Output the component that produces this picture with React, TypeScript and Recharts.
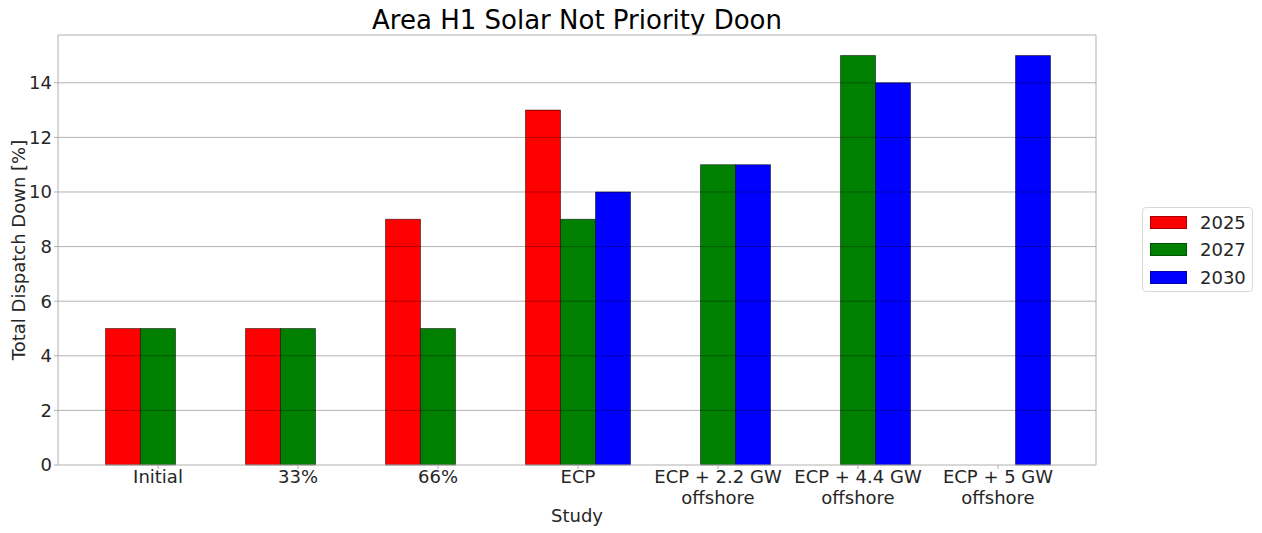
import React from "react";
import {
  Bar,
  BarChart,
  ReferenceLine,
  XAxis,
  YAxis
} from "recharts";

const categories = [
  "Initial",
  "33%",
  "66%",
  "ECP",
  "ECP + 2.2 GW\noffshore",
  "ECP + 4.4 GW\noffshore",
  "ECP + 5 GW\noffshore"
];
const values2025 = [5, 5, 9, 13, null, null, null];
const values2027 = [5, 5, 5, 9, 11, 15, null];
const values2030 = [null, null, null, 10, 11, 14, 15];
const yTicks = [0, 2, 4, 6, 8, 10, 12, 14];

const series = [
  { key: "y2025", name: "2025", color: "#ff0000" },
  { key: "y2027", name: "2027", color: "#008000" },
  { key: "y2030", name: "2030", color: "#0000ff" }
];

const data = categories.map((study, i) => ({
  study,
  y2025: values2025[i],
  y2027: values2027[i],
  y2030: values2030[i]
}));

const FONT = "'DejaVu Sans', sans-serif";
const TEXT = "#262626";
const SPINE = "#b0b0b0";

function StudyTick({ x, y, payload }: any) {
  const lines = String(payload.value).split("\n");
  return (
    <text x={x} y={y + 12} textAnchor="middle" fontFamily={FONT} fontSize={18} fill={TEXT}>
      {lines.map((line, i) => (
        <tspan key={i} x={x} dy={i === 0 ? 0 : 20.5}>
          {line}
        </tspan>
      ))}
    </text>
  );
}

function LegendBox() {
  return (
    <div
      style={{
        position: "absolute",
        left: 1142,
        top: 207,
        width: 109,
        height: 83,
        border: "1px solid #d9d9d9",
        borderRadius: 4,
        background: "#fff",
        fontFamily: FONT,
        fontSize: 18,
        color: TEXT
      }}
    >
      {series.map((s, i) => (
        <div
          key={s.key}
          style={{ position: "absolute", left: 7, top: 4 + i * 27.5, display: "flex", alignItems: "center", height: 20 }}
        >
          <span
            style={{
              display: "inline-block",
              width: 37,
              height: 13,
              background: s.color,
              border: "1px solid rgba(0,0,0,0.35)",
              boxSizing: "border-box"
            }}
          />
          <span style={{ marginLeft: 13 }}>{s.name}</span>
        </div>
      ))}
    </div>
  );
}

export default function App() {
  return (
    <div style={{ position: "absolute", left: 0, top: 0, width: 1262, height: 533, background: "#fff" }}>
      <div
        style={{
          position: "absolute",
          left: 58,
          width: 1038,
          top: 5,
          textAlign: "center",
          fontFamily: FONT,
          fontSize: 26,
          color: "#000"
        }}
      >
        Area H1 Solar Not Priority Doon
      </div>
      <BarChart
        width={1262}
        height={533}
        data={data}
        margin={{ top: 34, right: 165, bottom: 0, left: 0 }}
        barCategoryGap="12.5%"
        barGap={0}
      >
        <XAxis
          dataKey="study"
          height={68}
          padding={{ left: 30, right: 28 }}
          interval={0}
          tick={<StudyTick />}
          tickLine={{ stroke: SPINE }}
          tickSize={4}
          axisLine={{ stroke: SPINE }}
          label={{ value: "Study", position: "insideBottom", offset: 11, fontFamily: FONT, fontSize: 18, fill: TEXT }}
        />
        <XAxis
          xAxisId="top"
          orientation="top"
          dataKey="study"
          height={1}
          tick={false}
          tickLine={false}
          axisLine={{ stroke: SPINE }}
        />
        <YAxis
          width={58}
          domain={[0, 15.75]}
          ticks={yTicks}
          interval={0}
          tickSize={4}
          tickLine={{ stroke: SPINE }}
          axisLine={{ stroke: SPINE }}
          tick={{ fontFamily: FONT, fontSize: 18, fill: TEXT }}
          label={{
            value: "Total Dispatch Down [%]",
            angle: -90,
            position: "insideLeft",
            offset: 19,
            style: { textAnchor: "middle" },
            fontFamily: FONT,
            fontSize: 18,
            fill: TEXT
          }}
        />
        <YAxis
          yAxisId="right"
          orientation="right"
          width={1}
          domain={[0, 15.75]}
          tick={false}
          tickLine={false}
          axisLine={{ stroke: SPINE }}
        />
        {series.map((s) => (
          <Bar
            key={s.key}
            dataKey={s.key}
            name={s.name}
            fill={s.color}
            stroke="#000"
            strokeOpacity={0.5}
            strokeWidth={1}
            isAnimationActive={false}
          />
        ))}
        {yTicks.slice(1).map((t) => (
          <ReferenceLine key={t} y={t} stroke="#000" strokeOpacity={0.3} strokeWidth={1} />
        ))}
      </BarChart>
      <LegendBox />
    </div>
  );
}
